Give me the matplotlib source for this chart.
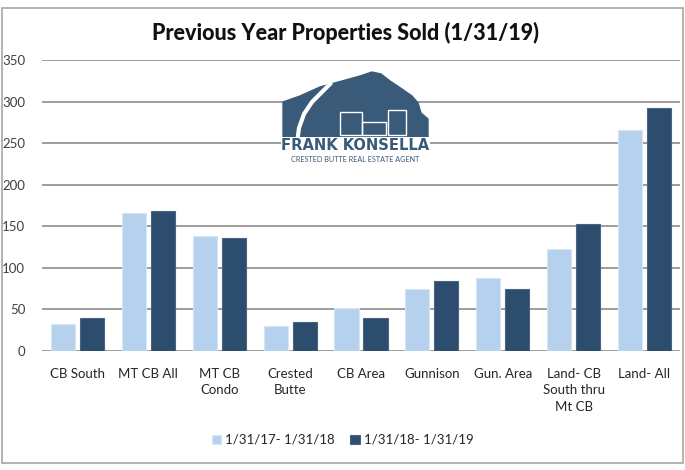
import numpy as np
import matplotlib.pyplot as plt
from matplotlib.patches import Polygon, Rectangle

# ==========================================
# DATA
# ==========================================
CATEGORIES = [
    "CB South", "MT CB All", "MT CB\nCondo", "Crested\nButte", "CB Area",
    "Gunnison", "Gun. Area", "Land- CB\nSouth thru\nMt CB", "Land- All",
]
SERIES_NAMES = ["1/31/17- 1/31/18", "1/31/18- 1/31/19"]
SOLD_PREV = [33, 166, 138, 30, 52, 74, 88, 123, 266]
SOLD_CURR = [40, 168, 136, 35, 40, 84, 74, 153, 292]
Y_TICKS = [0, 50, 100, 150, 200, 250, 300, 350]

TITLE = "Previous Year Properties Sold (1/31/19)"
LIGHT = "#b5d1ed"
DARK = "#2d4d6e"
GRID = "#8c8c8c"
TEXT = "#404040"

plt.rcParams['font.family'] = ['Lato', 'DejaVu Sans']

W, H = 685, 470
fig = plt.figure(figsize=(W / 100, H / 100), dpi=100)


def fx(px):
    return px / W


def fy(py):
    return 1 - py / H


# chart frame
fig.patches.append(Rectangle((fx(2), fy(463)), fx(681), 455 / H, transform=fig.transFigure,
                             fill=False, edgecolor="#a6a6a6", lw=1.2))

ax = fig.add_axes([fx(42), fy(351), fx(638), (351 - 60) / H])
x = np.arange(len(CATEGORIES))
bw = 0.34
off = 0.205
ax.bar(x - off, SOLD_PREV, bw, color=LIGHT, edgecolor="#d6e5f5", lw=0.8, label=SERIES_NAMES[0], zorder=3)
ax.bar(x + off, SOLD_CURR, bw, color=DARK, edgecolor="#4a6582", lw=0.8, label=SERIES_NAMES[1], zorder=3)

ax.set_xlim(-0.5, len(CATEGORIES) - 0.5)
ax.set_ylim(0, 350)
ax.set_yticks(Y_TICKS)
ax.yaxis.grid(True, color=GRID, lw=1.2, zorder=0)
ax.set_axisbelow(True)
for s in ax.spines.values():
    s.set_visible(False)
ax.tick_params(axis='y', length=0, pad=12, labelsize=9.5, labelcolor=TEXT)
ax.set_xticks(x)
ax.set_xticklabels(CATEGORIES, fontsize=9.5, color="#262626", linespacing=1.45, va='top')
ax.tick_params(axis='x', length=0, pad=12)

fig.text(0.505, fy(33), TITLE, ha='center', va='center', fontsize=15.5, fontweight='black', color="#111111")

leg = fig.legend(loc='center', bbox_to_anchor=(0.5, fy(440)), ncol=2, frameon=False,
                 fontsize=9.5, handlelength=0.7, handleheight=0.7, handletextpad=0.3,
                 columnspacing=1.2)
for t in leg.get_texts():
    t.set_color("#262626")

# logo
mountain = [(283, 145), (283, 102), (300, 96), (320, 87), (342, 81), (360, 76), (372, 72),
            (381, 74), (390, 81), (402, 89), (412, 96), (418, 103), (421, 113), (428, 119),
            (428, 145)]
fig.patches.append(Polygon([(fx(a), fy(b)) for a, b in mountain], closed=True,
                           transform=fig.transFigure, color="#3a5a7a", zorder=5))
road_x = [330, 322, 312, 304, 299, 297]
road_y = [84, 92, 102, 114, 128, 143]
fig.lines.append(plt.Line2D([fx(v) for v in road_x], [fy(v) for v in road_y],
                            transform=fig.transFigure, color="white", lw=3, zorder=6))
for bx, by, bwid, bh in [(340, 112, 22, 23), (362, 122, 24, 13), (388, 110, 18, 25)]:
    fig.patches.append(Rectangle((fx(bx), fy(by + bh)), bwid / W, bh / H, transform=fig.transFigure,
                                 fill=False, edgecolor="white", lw=1, zorder=6))
fig.text(fx(355.5), fy(145), "FRANK KONSELLA", ha='center', va='center', fontsize=11.8,
         fontweight='bold', fontstretch='condensed', color="#3a5a7a",
         family=['DejaVu Sans Condensed', 'DejaVu Sans'],
         zorder=7, bbox=dict(facecolor='white', edgecolor='none', pad=0.5))
fig.text(fx(355.5), fy(159), "CRESTED BUTTE REAL ESTATE AGENT", ha='center', va='center',
         fontsize=5.2, color="#3a5a7a", zorder=7)

fig.savefig("out.png", dpi=100)
